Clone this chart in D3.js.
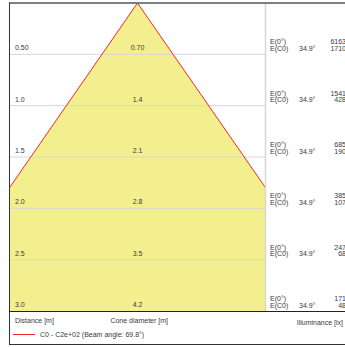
<!DOCTYPE html>
<html>
<head>
<meta charset="utf-8">
<script src="https://cdn.jsdelivr.net/npm/d3@7"></script>
<style>
  body { margin:0; background:#fff; }
  text { font-family:"Liberation Sans", Arial, sans-serif; font-size:7px; fill:#3a3a3a; }
</style>
</head>
<body>
<div id="chart"></div>
<script>
// distances [m] and what goes with them
var distances = [0.5, 1.0, 1.5, 2.0, 2.5, 3.0];
var distLabels = ["0.50", "1.0", "1.5", "2.0", "2.5", "3.0"];
var coneLabels = ["0.70", "1.4", "2.1", "2.8", "3.5", "4.2"];
var eCenter = [6163, 1541, 685, 385, 247, 171];
var eC0 = [1710, 428, 190, 107, 68, 48];
var halfAngle = "34.9°";
var beamAngle = 69.8;
var maxDist = 3.0;

var W = 345, H = 347;
var svg = d3.select("#chart").append("svg")
  .attr("width", W).attr("height", H);

var plot = {left:10, right:265, top:3, bottom:311};

var xScale = d3.scaleLinear().domain([-1.25, 1.25]).range([plot.left, plot.right]);
var yScale = d3.scaleLinear().domain([0, maxDist]).range([plot.top, plot.bottom]);

var tanHalf = Math.tan(beamAngle / 2 * Math.PI / 180);

// clip to plot area
svg.append("clipPath").attr("id","clip")
  .append("rect")
  .attr("x", plot.left).attr("y", plot.top)
  .attr("width", plot.right - plot.left).attr("height", plot.bottom - plot.top);

// cone
var cone = [[0,0],[-maxDist*tanHalf, maxDist],[maxDist*tanHalf, maxDist]];
svg.append("path")
  .attr("clip-path","url(#clip)")
  .attr("d", d3.line().x(d=>xScale(d[0])).y(d=>yScale(d[1]))(cone) + "Z")
  .attr("fill","#f3ef8e");

// grid lines
svg.selectAll(".grid").data(distances.slice(0,-1)).enter()
  .append("line")
  .attr("x1", plot.left).attr("x2", plot.right)
  .attr("y1", d=>yScale(d)).attr("y2", d=>yScale(d))
  .attr("stroke","#d6d6d6").attr("stroke-width",1);

// red edges
var edge = d3.line().x(d=>xScale(d[0])).y(d=>yScale(d[1]));
svg.append("path")
  .attr("clip-path","url(#clip)")
  .attr("d", edge([cone[1],cone[0],cone[2]]))
  .attr("fill","none").attr("stroke","#ee2a2a").attr("stroke-width",1);

// vertical separator
svg.append("line")
  .attr("x1", plot.right + 0.5).attr("x2", plot.right + 0.5)
  .attr("y1", plot.top).attr("y2", plot.bottom)
  .attr("stroke","#d6d6d6").attr("stroke-width",1.5);

// labels per distance
distances.forEach(function(d, i){
  var y = yScale(d) - 4;
  svg.append("text").attr("x", 15).attr("y", y).text(distLabels[i]);
  svg.append("text").attr("x", xScale(0)).attr("y", y)
    .attr("text-anchor","middle").text(coneLabels[i]);
  svg.append("text").attr("x", 270).attr("y", y - 6).text("E(0°)");
  svg.append("text").attr("x", 270).attr("y", y + 0.5).text("E(C0)");
  svg.append("text").attr("x", 299).attr("y", y + 0.5).text(halfAngle);
  svg.append("text").attr("x", 346).attr("y", y - 6)
    .attr("text-anchor","end").text(eCenter[i]);
  svg.append("text").attr("x", 346).attr("y", y + 0.5)
    .attr("text-anchor","end").text(eC0[i]);
});

// frame
svg.append("line").attr("x1", 9).attr("x2", W).attr("y1", 3).attr("y2", 3)
  .attr("stroke","#555").attr("stroke-width",1.5);
svg.append("line").attr("x1", 9.5).attr("x2", 9.5).attr("y1", 3).attr("y2", 344.5)
  .attr("stroke","#333").attr("stroke-width",1);
svg.append("line").attr("x1", 9).attr("x2", W).attr("y1", plot.bottom + 0.5).attr("y2", plot.bottom + 0.5)
  .attr("stroke","#222").attr("stroke-width",1);
svg.append("line").attr("x1", 9).attr("x2", W).attr("y1", 344.5).attr("y2", 344.5)
  .attr("stroke","#333").attr("stroke-width",1);

// bottom legend
svg.append("text").attr("x", 15).attr("y", 323).text("Distance [m]");
svg.append("text").attr("x", 168).attr("y", 323).attr("text-anchor","end").text("Cone diameter [m]");
svg.append("text").attr("x", 343).attr("y", 325).attr("text-anchor","end").text("Illuminance [lx]");
svg.append("line").attr("x1", 13).attr("x2", 35).attr("y1", 334.5).attr("y2", 334.5)
  .attr("stroke","#ee2a2a").attr("stroke-width",1);
svg.append("text").attr("x", 40).attr("y", 337)
  .text("C0 - C2e+02 (Beam angle: " + beamAngle + "°)");
</script>
</body>
</html>
